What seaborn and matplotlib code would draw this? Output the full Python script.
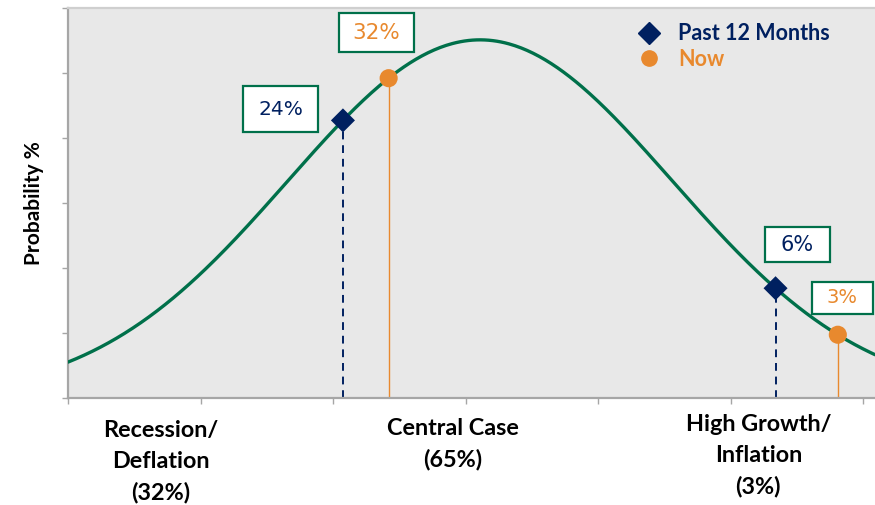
import numpy as np
import pandas as pd
import matplotlib
matplotlib.use("Agg")
import matplotlib.pyplot as plt
from matplotlib.patches import Rectangle
from matplotlib.lines import Line2D
import matplotlib.transforms as mtransforms
import seaborn as sns

# Scenario distribution (bell curve) parameters
curve_peak = 5.51
curve_mean = 3.11
curve_sd = 1.45

# Scenario categories along the x axis
categories = ["Recession/\nDeflation\n(32%)", "Central Case\n(65%)", "High Growth/\nInflation\n(3%)"]
category_x = [0.70, 2.906, 5.21]

# Markers: position along the scenario axis and their probability labels
past_x = [2.075, 5.34]
past_labels = ["24%", "6%"]
now_x = [2.42, 5.81]
now_labels = ["32%", "3%"]

GREEN = "#00704A"
NAVY = "#002060"
ORANGE = "#E8892E"
BG = "#E8E8E8"
SPINE = "#A6A6A6"


def bell(x):
    x = np.asarray(x, dtype=float)
    return curve_peak * np.exp(-((x - curve_mean) ** 2) / (2 * curve_sd ** 2))


sns.set_theme(style="white")
plt.rcParams["font.family"] = ["Lato", "DejaVu Sans"]

fig = plt.figure(figsize=(8.75, 5.05), dpi=100)
ax = fig.add_axes([68 / 875, 107 / 505, 807 / 875, 390 / 505])
ax.set_facecolor(BG)

xmax = 807 / 132.5
grid = np.linspace(0, xmax, 400)
curve_df = pd.DataFrame({"x": grid, "y": bell(grid)})
sns.lineplot(data=curve_df, x="x", y="y", ax=ax, color=GREEN, linewidth=2.4, zorder=3)

past_df = pd.DataFrame({"x": past_x, "y": bell(past_x)})
now_df = pd.DataFrame({"x": now_x, "y": bell(now_x)})

# Drop lines from each marker to the baseline
ax.vlines(past_df["x"], 0, past_df["y"], colors=NAVY, linestyles=(0, (4, 3)), linewidth=1.4, zorder=2)
ax.vlines(now_df["x"], 0, now_df["y"], colors=ORANGE, linewidth=1.0, zorder=2)

sns.scatterplot(data=past_df, x="x", y="y", ax=ax, marker="D", s=150, color=NAVY,
                edgecolor="none", zorder=5, legend=False)
sns.scatterplot(data=now_df, x="x", y="y", ax=ax, marker="o", s=170, color=ORANGE,
                edgecolor="none", zorder=5, legend=False)

# Value boxes: (x0, x1, y0, y1) in data units, font size
past_boxes = [((1.321, 1.887, 4.092, 4.80), 14.5), ((5.260, 5.751, 2.092, 2.631), 15)]
now_boxes = [((2.045, 2.611, 5.323, 5.923), 15.5), ((5.615, 6.075, 1.292, 1.785), 14)]


def draw_box(box, label, color, size):
    x0, x1, y0, y1 = box
    ax.add_patch(Rectangle((x0, y0), x1 - x0, y1 - y0, facecolor="white",
                           edgecolor=GREEN, linewidth=1.6, zorder=6, clip_on=False))
    ax.text((x0 + x1) / 2, (y0 + y1) / 2, label, color=color, fontsize=size,
            family="DejaVu Sans", ha="center", va="center", zorder=7)


for (box, size), label in zip(past_boxes, past_labels):
    draw_box(box, label, NAVY, size)
for (box, size), label in zip(now_boxes, now_labels):
    draw_box(box, label, ORANGE, size)

ax.set_xlim(0, xmax)
ax.set_ylim(0, 6)
ax.set_xticks(np.arange(0, 7))
ax.set_yticks(np.arange(0, 7))
ax.set_xticklabels([])
ax.set_yticklabels([])
ax.tick_params(axis="both", direction="out", length=4, width=1, color=SPINE,
               bottom=True, left=True)
ax.set_xlabel("")
ax.set_ylabel("Probability %", fontsize=15, fontweight="bold", color="black", labelpad=10)

for side in ["left", "bottom"]:
    ax.spines[side].set_color(SPINE)
    ax.spines[side].set_linewidth(1.6)
ax.spines["top"].set_color("#CFCFCF")
ax.spines["top"].set_linewidth(1.6)
ax.spines["right"].set_visible(False)

# Scenario labels under the axis
trans = mtransforms.blended_transform_factory(ax.transData, ax.transAxes)
label_y = [-0.163, -0.118, -0.148]
for cx, cy, text in zip(category_x, label_y, categories):
    ax.text(cx, cy, text, transform=trans, ha="center", va="center", fontsize=16.8,
            fontweight="bold", color="black", linespacing=1.58, multialignment="center")

handles = [
    Line2D([], [], marker="D", linestyle="none", color=NAVY, markersize=11),
    Line2D([], [], marker="o", linestyle="none", color=ORANGE, markersize=11),
]
leg = ax.legend(handles, ["Past 12 Months", "Now"], loc="upper left",
                bbox_to_anchor=(0.675, 1.0), frameon=False,
                handletextpad=0.35, labelspacing=0.22, borderaxespad=0.3,
                prop={"weight": "bold", "size": 15.5})
for text, col in zip(leg.get_texts(), [NAVY, ORANGE]):
    text.set_color(col)

fig.savefig("out.png", dpi=100, facecolor="white")
